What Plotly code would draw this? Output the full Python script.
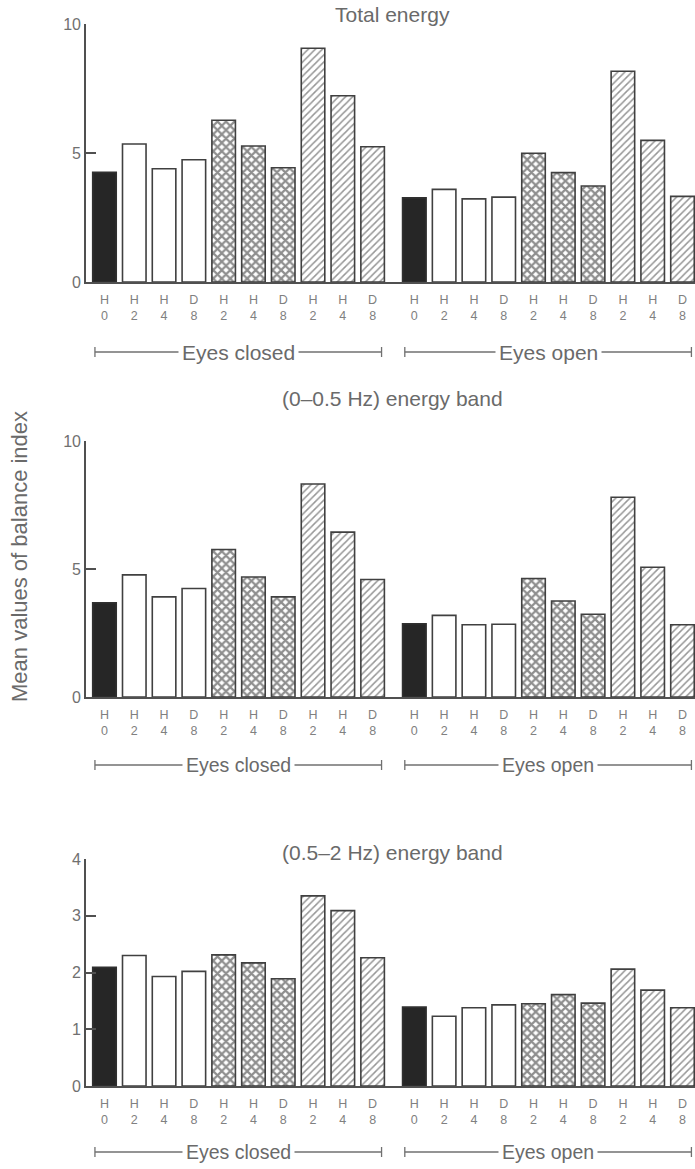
import plotly.graph_objects as go

# ---- data ----
top_labels = ["H", "H", "H", "D", "H", "H", "D", "H", "H", "D"]
bottom_labels = ["0", "2", "4", "8", "2", "4", "8", "2", "4", "8"]
styles = ["solid", "open", "open", "open", "cross", "cross", "cross", "diag", "diag", "diag"]
groups = ["Eyes closed", "Eyes open"]

total_closed = [4.25, 5.35, 4.39, 4.74, 6.27, 5.27, 4.43, 9.06, 7.22, 5.24]
total_open = [3.26, 3.59, 3.22, 3.29, 4.99, 4.24, 3.72, 8.17, 5.49, 3.32]
band1_closed = [3.68, 4.77, 3.91, 4.24, 5.76, 4.69, 3.91, 8.32, 6.44, 4.59]
band1_open = [2.86, 3.19, 2.82, 2.84, 4.63, 3.75, 3.23, 7.80, 5.07, 2.82]
band2_closed = [2.09, 2.30, 1.93, 2.02, 2.31, 2.17, 1.89, 3.35, 3.09, 2.26]
band2_open = [1.39, 1.23, 1.38, 1.43, 1.45, 1.61, 1.46, 2.06, 1.69, 1.38]

panel_titles = ["Total energy", "(0–0.5 Hz) energy band", "(0.5–2 Hz) energy band"]
y_label = "Mean values of balance index"
y_ticks = [[0, 5, 10], [0, 5, 10], [0, 1, 2, 3, 4]]
y_ranges = [[0, 10], [0, 10], [0, 4]]

panels = [(total_closed, total_open), (band1_closed, band1_open), (band2_closed, band2_open)]

# ---- layout helpers ----
W, H = 695, 1169
LEFT = 86
PLOT_W = W - LEFT
GROUP_GAP = 0.4
n = len(top_labels)
positions = [i for i in range(n)] + [n + GROUP_GAP + i for i in range(n)]
all_styles = styles + styles
tick_text = [f"{a}<br>{b}" for a, b in zip(top_labels, bottom_labels)] * 2

# pixel geometry of each panel: (top px, bottom px)
panel_px = [(24, 282), (441, 697), (859, 1086)]
title_px = [15, 398, 852]
title_font = [21, 21, 21]
bracket_px = [352, 765, 1152]
bracket_font = [21, 19.5, 19.5]

def py(px):
    return 1 - px / H

def pxx(px):
    return (px - LEFT) / PLOT_W

AX = "#505050"
TXT = "#707070"
FONT = "Liberation Sans, Arial, sans-serif"

style_map = {
    "solid": dict(color="#262626", line=dict(color="#303030", width=1.6)),
    "open": dict(color="white", line=dict(color="#404040", width=1.6)),
    "cross": dict(color="white", line=dict(color="#404040", width=1.6),
                  pattern=dict(shape="x", fgcolor="#1e1e1e", bgcolor="white", size=6, solidity=0.6)),
    "diag": dict(color="white", line=dict(color="#404040", width=1.6),
                 pattern=dict(shape="/", fgcolor="#2e2e2e", bgcolor="white", size=5, solidity=0.3)),
}

fig = go.Figure()
layout = dict(
    width=W, height=H,
    margin=dict(l=LEFT, r=0, t=0, b=0, autoexpand=False),
    paper_bgcolor="white", plot_bgcolor="white",
    showlegend=False,
    font=dict(family=FONT, color=TXT),
)
annotations = []
shapes = []

for p, (closed, opened) in enumerate(panels):
    vals = list(closed) + list(opened)
    sfx = "" if p == 0 else str(p + 1)
    for st in ["solid", "open", "cross", "diag"]:
        xs = [x for x, s in zip(positions, all_styles) if s == st]
        ys = [v for v, s in zip(vals, all_styles) if s == st]
        fig.add_trace(go.Bar(x=xs, y=ys, width=0.79, marker=style_map[st],
                             xaxis="x" + sfx, yaxis="y" + sfx, hoverinfo="y"))
    top, bot = panel_px[p]
    layout["xaxis" + sfx] = dict(
        domain=[0, 1], anchor="y" + sfx, range=[-0.62, positions[-1] + 0.42],
        automargin=False,
        showline=True, linecolor=AX, linewidth=1.6, showgrid=False, zeroline=False,
        tickmode="array", tickvals=positions, ticktext=tick_text,
        ticks="outside", ticklen=5, tickcolor="rgba(0,0,0,0)",
        tickfont=dict(size=12.5, color="#808080", family=FONT),
    )
    layout["yaxis" + sfx] = dict(
        domain=[py(bot), py(top)], anchor="x" + sfx, range=y_ranges[p],
        automargin=False,
        showline=True, linecolor=AX, linewidth=1.6, showgrid=False, zeroline=False,
        tickmode="array", tickvals=y_ticks[p], ticks="inside", ticklen=10, tickwidth=1.6,
        tickcolor=AX, tickfont=dict(size=16, color=TXT, family=FONT),
    )
    annotations.append(dict(
        text=panel_titles[p], xref="paper", yref="paper", x=pxx(392), y=py(title_px[p]),
        xanchor="center", yanchor="middle", showarrow=False,
        font=dict(size=title_font[p], color="#6a6a6a", family=FONT)))
    # group brackets
    for g in range(2):
        x0 = positions[g * n] - 0.32
        x1 = positions[g * n + n - 1] + 0.3
        yb = py(bracket_px[p])
        cap = 5 / H
        shapes.append(dict(type="line", xref="x" + sfx, yref="paper", x0=x0, x1=x1, y0=yb, y1=yb,
                           line=dict(color="#707070", width=1.3)))
        for xe in (x0, x1):
            shapes.append(dict(type="line", xref="x" + sfx, yref="paper", x0=xe, x1=xe,
                               y0=yb - cap, y1=yb + cap, line=dict(color="#707070", width=1.3)))
        annotations.append(dict(
            text=groups[g], xref="x" + sfx, yref="paper", x=(x0 + x1) / 2, y=yb,
            xanchor="center", yanchor="middle", showarrow=False, bgcolor="white",
            borderpad=3, font=dict(size=bracket_font[p], color="#6a6a6a", family=FONT)))

annotations.append(dict(
    text=y_label, xref="paper", yref="paper", x=pxx(19), y=py(557),
    xanchor="center", yanchor="middle", textangle=-90, showarrow=False,
    font=dict(size=22, color="#6a6a6a", family=FONT)))

layout["annotations"] = annotations
layout["shapes"] = shapes
fig.update_layout(**layout)
fig.write_html(
    "out.html",
    config={"displayModeBar": False},
    post_script="document.body.style.margin='0';document.body.style.overflow='hidden';",
)
